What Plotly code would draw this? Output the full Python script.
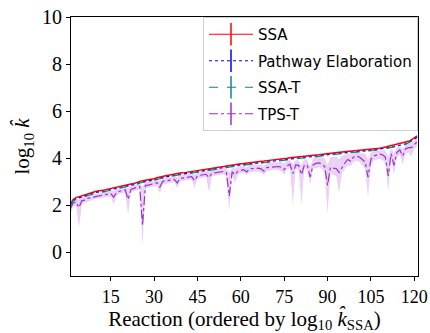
import plotly.graph_objects as go

reaction = list(range(1, 122))

ssa = [2.05, 2.25, 2.33, 2.37, 2.43, 2.46, 2.49, 2.52, 2.56, 2.60,
       2.62, 2.63, 2.65, 2.69, 2.72, 2.74, 2.77, 2.80, 2.85, 2.88,
       2.90, 2.91, 2.93, 2.98, 3.02, 3.05, 3.07, 3.08, 3.11, 3.13,
       3.17, 3.21, 3.24, 3.26, 3.28, 3.31, 3.33, 3.35, 3.37, 3.38,
       3.40, 3.42, 3.44, 3.46, 3.48, 3.51, 3.53, 3.55, 3.58, 3.60,
       3.62, 3.64, 3.66, 3.68, 3.70, 3.71, 3.73, 3.74, 3.76, 3.77,
       3.78, 3.79, 3.80, 3.82, 3.83, 3.85, 3.86, 3.88, 3.90, 3.91,
       3.92, 3.94, 3.95, 3.97, 3.98, 4.00, 4.02, 4.03, 4.04, 4.05,
       4.06, 4.08, 4.09, 4.11, 4.12, 4.14, 4.15, 4.17, 4.19, 4.21,
       4.22, 4.23, 4.24, 4.26, 4.27, 4.28, 4.29, 4.30, 4.31, 4.32,
       4.33, 4.35, 4.36, 4.38, 4.39, 4.40, 4.42, 4.43, 4.45, 4.48,
       4.50, 4.52, 4.55, 4.57, 4.60, 4.63, 4.66, 4.72, 4.78, 4.85, 4.95]

pathway = [2.00, 2.20, 2.28, 2.32, 2.38, 2.41, 2.44, 2.47, 2.51, 2.55,
           2.57, 2.58, 2.60, 2.64, 2.67, 2.69, 2.72, 2.75, 2.80, 2.83,
           2.85, 2.86, 2.88, 2.93, 2.97, 3.00, 3.02, 3.03, 3.06, 3.08,
           3.12, 3.16, 3.19, 3.21, 3.23, 3.26, 3.28, 3.30, 3.32, 3.33,
           3.35, 3.37, 3.39, 3.41, 3.43, 3.46, 3.48, 3.50, 3.53, 3.55,
           3.57, 3.59, 3.61, 3.63, 3.65, 3.66, 3.68, 3.69, 3.71, 3.72,
           3.73, 3.74, 3.75, 3.77, 3.78, 3.80, 3.81, 3.83, 3.85, 3.86,
           3.87, 3.89, 3.90, 3.92, 3.93, 3.95, 3.97, 3.98, 3.99, 4.00,
           4.01, 4.03, 4.04, 4.06, 4.07, 4.09, 4.10, 4.12, 4.14, 4.16,
           4.17, 4.18, 4.19, 4.21, 4.22, 4.23, 4.24, 4.25, 4.26, 4.27,
           4.28, 4.30, 4.31, 4.33, 4.34, 4.35, 4.37, 4.38, 4.40, 4.43,
           4.45, 4.47, 4.50, 4.52, 4.55, 4.58, 4.61, 4.67, 4.73, 4.80, 4.90]

ssa_t = [1.98, 2.18, 2.26, 2.30, 2.36, 2.39, 2.42, 2.45, 2.49, 2.53,
         2.55, 2.56, 2.58, 2.62, 2.65, 2.67, 2.70, 2.73, 2.78, 2.81,
         2.83, 2.84, 2.86, 2.91, 2.95, 2.98, 3.00, 3.01, 3.04, 3.06,
         3.10, 3.14, 3.17, 3.19, 3.21, 3.24, 3.26, 3.28, 3.30, 3.31,
         3.33, 3.35, 3.37, 3.39, 3.41, 3.44, 3.46, 3.48, 3.51, 3.53,
         3.55, 3.57, 3.59, 3.61, 3.63, 3.64, 3.66, 3.67, 3.69, 3.70,
         3.71, 3.72, 3.73, 3.75, 3.76, 3.78, 3.79, 3.81, 3.83, 3.84,
         3.85, 3.87, 3.88, 3.90, 3.91, 3.93, 3.95, 3.96, 3.97, 3.98,
         3.99, 4.01, 4.02, 4.04, 4.05, 4.07, 4.08, 4.10, 4.12, 4.14,
         4.15, 4.16, 4.17, 4.19, 4.20, 4.21, 4.22, 4.23, 4.24, 4.25,
         4.26, 4.28, 4.29, 4.31, 4.32, 4.33, 4.35, 4.36, 4.38, 4.41,
         4.43, 4.45, 4.48, 4.50, 4.53, 4.56, 4.59, 4.65, 4.71, 4.78, 4.88]

tps_t = [1.85, 2.10, 2.15, 1.90, 2.20, 2.22, 2.30, 2.33, 2.36, 2.40,
         2.42, 2.43, 2.45, 2.48, 2.50, 2.35, 2.55, 2.60, 2.64, 2.66,
         2.25, 2.68, 2.72, 2.76, 2.80, 1.15, 2.85, 2.86, 2.90, 2.92,
         2.96, 2.78, 3.02, 3.04, 3.06, 3.08, 3.10, 2.95, 3.15, 3.16,
         3.18, 3.20, 3.22, 3.05, 3.25, 3.28, 3.30, 3.32, 3.18, 3.36,
         3.38, 3.40, 3.42, 3.44, 3.40, 2.40, 3.42, 3.30, 3.45, 3.50,
         3.52, 3.42, 3.55, 3.56, 3.58, 3.58, 3.55, 3.45, 3.60, 3.62,
         3.64, 3.66, 3.65, 3.62, 3.52, 3.68, 3.75, 3.35, 3.72, 3.70,
         3.30, 3.72, 3.70, 3.20, 3.72, 3.78, 3.80, 3.76, 3.65, 2.85,
         3.62, 3.58, 3.56, 3.40, 3.62, 3.80, 3.95, 3.88, 4.05, 4.10,
         4.05, 3.95, 3.85, 3.20, 3.95, 4.10, 4.15, 4.18, 4.15, 4.05,
         3.25, 4.20, 3.70, 4.25, 4.35, 4.10, 4.40, 4.45, 4.45, 4.60, 4.70]

tps_t_low = [1.60, 1.95, 2.00, 1.05, 2.05, 2.10, 2.18, 2.22, 2.25, 2.28,
             2.30, 2.32, 2.33, 2.35, 2.38, 2.03, 2.42, 2.48, 2.52, 2.55,
             1.60, 2.55, 2.60, 2.65, 2.68, 0.30, 2.72, 2.75, 2.78, 2.80,
             2.82, 2.50, 2.90, 2.92, 2.95, 2.97, 2.98, 2.74, 3.02, 3.04,
             3.06, 3.08, 3.10, 2.74, 3.12, 3.15, 3.18, 3.20, 2.56, 3.24,
             3.26, 3.28, 3.30, 3.32, 3.25, 1.75, 3.25, 2.95, 3.30, 3.36,
             3.38, 3.30, 3.42, 3.43, 3.45, 3.44, 3.40, 3.30, 3.45, 3.48,
             3.50, 3.52, 3.50, 3.45, 3.30, 3.52, 3.60, 2.03, 3.55, 3.50,
             2.03, 3.55, 3.50, 2.88, 3.55, 3.60, 3.62, 3.55, 3.40, 1.68,
             3.35, 3.30, 3.25, 2.53, 3.35, 3.55, 3.70, 3.66, 3.85, 3.90,
             3.85, 3.70, 3.55, 2.33, 3.70, 3.90, 3.95, 3.98, 3.92, 3.80,
             2.60, 4.00, 3.30, 4.05, 4.15, 3.75, 4.20, 4.25, 4.08, 4.40, 4.50]

tps_t_high = [1.98, 2.18, 2.25, 2.25, 2.35, 2.38, 2.41, 2.44, 2.48, 2.52,
              2.54, 2.55, 2.57, 2.61, 2.64, 2.60, 2.69, 2.72, 2.77, 2.80,
              2.72, 2.83, 2.85, 2.90, 2.94, 2.80, 2.99, 3.00, 3.03, 3.05,
              3.09, 3.05, 3.16, 3.18, 3.20, 3.23, 3.25, 3.20, 3.29, 3.30,
              3.32, 3.34, 3.36, 3.30, 3.40, 3.43, 3.45, 3.47, 3.42, 3.52,
              3.54, 3.56, 3.58, 3.60, 3.58, 3.40, 3.60, 3.55, 3.65, 3.68,
              3.69, 3.62, 3.71, 3.73, 3.74, 3.75, 3.74, 3.68, 3.80, 3.82,
              3.83, 3.85, 3.85, 3.84, 3.78, 3.90, 3.93, 3.75, 3.92, 3.92,
              3.70, 3.96, 3.95, 3.65, 4.00, 4.04, 4.05, 4.05, 4.00, 3.70,
              4.05, 4.05, 4.08, 3.95, 4.10, 4.15, 4.18, 4.18, 4.21, 4.23,
              4.22, 4.22, 4.20, 3.95, 4.25, 4.30, 4.33, 4.34, 4.34, 4.33,
              4.05, 4.42, 4.20, 4.47, 4.50, 4.40, 4.56, 4.62, 4.65, 4.75, 4.85]

x_ticks = [15, 30, 45, 60, 75, 90, 105, 120]
y_ticks = [0, 2, 4, 6, 8, 10]

names = ["SSA", "Pathway Elaboration", "SSA-T", "TPS-T"]
colors = ["#ff0000", "#0000ff", "#008b8b", "#9932cc"]
dashes = ["solid", "dot", "dash", "dashdot"]
series = [ssa, pathway, ssa_t, tps_t]
widths = [1.5, 1.2, 1.2, 1.2]

fig = go.Figure()

# TPS-T shaded band
fig.add_trace(go.Scatter(x=reaction, y=tps_t_low, mode="lines",
                         line=dict(width=0, color="rgba(153,50,204,0)"),
                         showlegend=False, hoverinfo="skip"))
fig.add_trace(go.Scatter(x=reaction, y=tps_t_high, mode="lines",
                         line=dict(width=0, color="rgba(153,50,204,0)"),
                         fill="tonexty", fillcolor="rgba(153,50,204,0.22)",
                         showlegend=False, hoverinfo="skip"))

for name, col, dash, ys, w in zip(names, colors, dashes, series, widths):
    fig.add_trace(go.Scatter(x=reaction, y=ys, mode="lines", name=name,
                             line=dict(color=col, dash=dash, width=w),
                             showlegend=False))

# legend-only entries with vertical error-bar marks
for name, col, dash in zip(names, colors, dashes):
    fig.add_trace(go.Scatter(x=[None], y=[None], mode="lines+markers", name=name,
                             legendgroup=name,
                             line=dict(color=col, dash=dash, width=1.2),
                             marker=dict(symbol="line-ns", size=18,
                                         line=dict(color=col, width=1.5))))

serif = "Liberation Serif"
fig.update_layout(
    width=430, height=333,
    margin=dict(l=71, r=12, t=17, b=57),
    paper_bgcolor="white", plot_bgcolor="white",
    font=dict(family=serif, size=18, color="black"),
    showlegend=True,
    legend=dict(x=1, y=1, xanchor="right", yanchor="top",
                bgcolor="rgba(255,255,255,0.85)", bordercolor="#d0d0d0",
                borderwidth=1, font=dict(family="DejaVu Sans", size=15, color="black"),
                itemwidth=44, tracegroupgap=4),
    xaxis=dict(range=[1.25, 121.3], tickvals=x_ticks, ticktext=[str(t) for t in x_ticks],
               showgrid=False, zeroline=False, showline=True, mirror=True,
               linecolor="black", linewidth=1, ticks="outside", ticklen=4,
               tickcolor="black", automargin=False,
               tickfont=dict(family=serif, size=18),
               title=dict(text="Reaction (ordered by log<sub>10</sub> <i>k\u0302</i><sub>SSA</sub>)",
                          font=dict(family=serif, size=21), standoff=4)),
    yaxis=dict(range=[-1, 10], tickvals=y_ticks, ticktext=[str(t) for t in y_ticks],
               showgrid=False, zeroline=False, showline=True, mirror=True,
               linecolor="black", linewidth=1, ticks="outside", ticklen=4,
               tickcolor="black", automargin=False,
               tickfont=dict(family=serif, size=20),
               title=dict(text="log<sub>10</sub> <i>k\u0302</i>",
                          font=dict(family=serif, size=21), standoff=6)),
)

fig.write_html("out.html")
